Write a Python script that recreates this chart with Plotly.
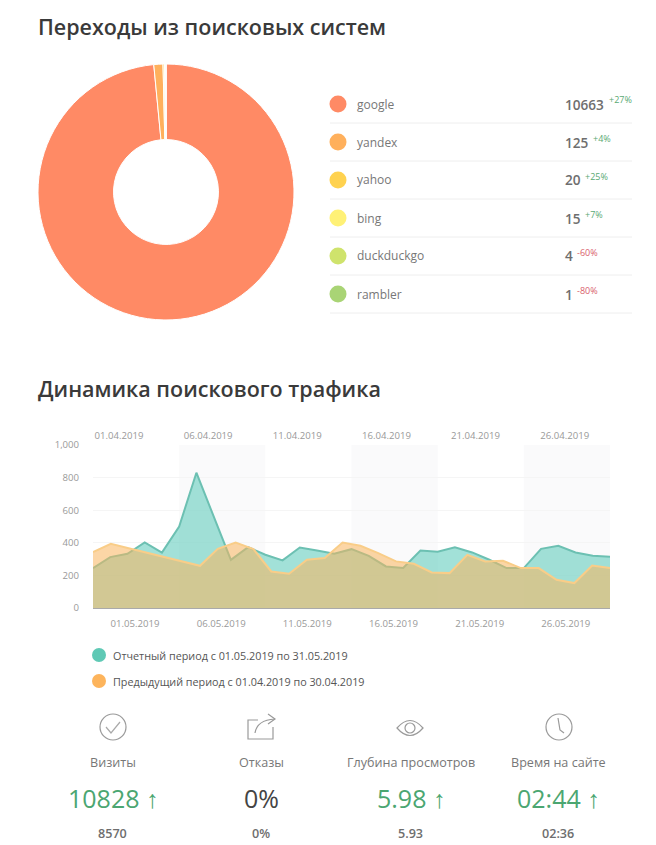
import pandas as pd
import plotly.graph_objects as go

W, H = 656, 845
FONT = "Open Sans"

# ---- data
engines = ["google", "yandex", "yahoo", "bing", "duckduckgo", "rambler"]
engine_values = [10663, 125, 20, 15, 4, 1]
engine_changes = ["+27%", "+4%", "+25%", "+7%", "-60%", "-80%"]
engine_colors = ["#ff8a65", "#ffb05c", "#ffd24f", "#fff176", "#cfe36c", "#a9d475"]

may_visits = [245, 312, 333, 402, 340, 500, 830, 561, 295, 373, 327, 292, 371, 353, 333, 361,
              320, 255, 245, 353, 345, 373, 341, 296, 245, 245, 363, 382, 341, 320, 314]
april_visits = [343, 394, 367, 340, 316, 286, 259, 363, 402, 361, 224, 210, 296, 306, 402,
                382, 337, 286, 271, 218, 214, 326, 286, 290, 245, 245, 173, 153, 261, 245]

period_labels = ["Отчетный период с 01.05.2019 по 31.05.2019",
                 "Предыдущий период с 01.04.2019 по 30.04.2019"]
kpi_names = ["Визиты", "Отказы", "Глубина просмотров", "Время на сайте"]
kpi_values = ["10828 ↑", "0%", "5.98 ↑", "02:44 ↑"]
kpi_prev = ["8570", "0%", "5.93", "02:36"]
kpi_colors = ["#4ba671", "#444444", "#4ba671", "#4ba671"]

may_dates = pd.date_range("2019-05-01", "2019-05-31")
april_dates = pd.date_range("2019-04-01", "2019-04-30")
band_starts = ["2019-05-06", "2019-05-16", "2019-05-26"]
band_ends = ["2019-05-11", "2019-05-21", "2019-05-31"]


# ---- pixel helpers for page furniture
def px(x):
    return x / W


def py(y):
    return 1 - y / H


def text(s, x, y, size, color, anchor="left", weight=400):
    return dict(text=s, x=px(x), y=py(y), xref="paper", yref="paper", xanchor=anchor, yanchor="middle",
                showarrow=False, borderpad=0, borderwidth=0,
                font=dict(family=FONT, size=size, color=color, weight=weight))


def dot(x, y, r, color):
    return dict(type="circle", xref="paper", yref="paper", x0=px(x - r), x1=px(x + r), y0=py(y + r), y1=py(y - r),
                fillcolor=color, line=dict(width=0), layer="above")


def path(cmds, color="#9a9a9a", width=1.2):
    out = []
    for c in cmds:
        if isinstance(c, str):
            out.append(c)
        else:
            out.append(f"{px(c[0]):.5f},{py(c[1]):.5f}")
    return dict(type="path", xref="paper", yref="paper", path=" ".join(out), line=dict(color=color, width=width),
                fillcolor="rgba(0,0,0,0)", layer="above")


def ring(x, y, r, color="#9a9a9a", width=1.2):
    return dict(type="circle", xref="paper", yref="paper", x0=px(x - r), x1=px(x + r), y0=py(y + r), y1=py(y - r),
                line=dict(color=color, width=width), fillcolor="rgba(0,0,0,0)", layer="above")


fig = go.Figure()

fig.add_trace(go.Pie(labels=engines, values=engine_values, sort=False, direction="clockwise", rotation=0,
                     hole=0.41, textinfo="none", showlegend=False,
                     marker=dict(colors=engine_colors, line=dict(color="white", width=1)),
                     domain=dict(x=[px(38), px(294)], y=[py(320), py(64)])))

fig.add_trace(go.Scatter(x=may_dates, y=may_visits, mode="lines", fill="tozeroy", xaxis="x", yaxis="y",
                         name=period_labels[0], showlegend=False,
                         line=dict(color="#6cc0b2", width=2), fillcolor="rgba(94,203,188,0.58)"))
fig.add_trace(go.Scatter(x=april_dates, y=april_visits, mode="lines", fill="tozeroy", xaxis="x2", yaxis="y",
                         name=period_labels[1], showlegend=False,
                         line=dict(color="#f9cd88", width=2), fillcolor="rgba(250,180,92,0.55)"))

annotations = [text("Переходы из поисковых систем", 38, 27, 21.5, "#3a3a3a", weight=600),
               text("Динамика поискового трафика", 38, 389, 21.5, "#3a3a3a", weight=600)]
shapes = []

for s, e in zip(band_starts, band_ends):
    shapes.append(dict(type="rect", xref="x", yref="paper", x0=s, x1=e, y0=py(608), y1=py(445),
                       fillcolor="#fafafb", line=dict(width=0), layer="below"))

row = 0
for name, val, chg, col in zip(engines, engine_values, engine_changes, engine_colors):
    y = 104 + 38 * row
    shapes.append(dot(338, y, 8.5, col))
    shapes.append(dict(type="line", xref="paper", yref="paper", x0=px(330), x1=px(632), y0=py(y + 19), y1=py(y + 19),
                       line=dict(color="#eeeeee", width=1), layer="above"))
    annotations.append(text(name, 357, y, 12, "#777777"))
    annotations.append(text(str(val), 565, y, 13.6, "#6e6e6e", weight=600))
    annotations.append(text(chg, 568.5 + 8 * len(str(val)), y - 4, 9, "#5aa973" if chg[0] == "+" else "#d9606c"))
    row += 1

for i, (lab, col) in enumerate(zip(period_labels, ["#5fc9b5", "#fdb45c"])):
    y = 655 + 26 * i
    shapes.append(dot(99, y, 7, col))
    annotations.append(text(lab, 113, y, 10.8, "#555555"))

kpi_x = [113, 261, 411, 558]
for x, n, v, p, c in zip(kpi_x, kpi_names, kpi_values, kpi_prev, kpi_colors):
    annotations.append(text(n, x, 762, 12.6, "#777777", "center"))
    annotations.append(text(v, x, 798, 25, c, "center"))
    annotations.append(text(p, x, 833, 12.6, "#6e6e6e", "center", 600))

# icons
shapes += [
    ring(113, 727, 13),
    path(["M", (106, 727), "L", (111, 733), "L", (120, 722)], "#aaaaaa"),
    path(["M", (258, 720), "L", (248, 720), "L", (248, 739), "L", (273, 739), "L", (273, 727)]),
    path(["M", (255, 733), "Q", (257, 720), (275, 719)]),
    path(["M", (268, 714), "L", (275, 719), "L", (268, 724)]),
    path(["M", (397, 728), "Q", (410, 713), (423, 728), "Q", (410, 743), (397, 728), "Z"]),
    ring(410, 728, 5),
    ring(559, 727, 13),
    path(["M", (558, 718), "L", (560, 730), "L", (564, 733)]),
]

tickfont = dict(family=FONT, size=9.6, color="#999999")
fig.update_layout(
    width=W, height=H, margin=dict(l=0, r=0, t=0, b=0, autoexpand=False), paper_bgcolor="white",
    plot_bgcolor="rgba(0,0,0,0)",
    showlegend=False, annotations=annotations, shapes=shapes, hovermode=False,
    xaxis=dict(domain=[px(93), px(610)], range=["2019-05-01", "2019-05-31"], type="date", tick0="2019-05-01",
               dtick=5 * 86400000, tickformat="%d.%m.%Y", ticklabelshift=42, tickfont=tickfont, automargin=False,
               ticks="outside", ticklen=6, tickcolor="rgba(0,0,0,0)", showgrid=False, zeroline=False,
               showline=True, linecolor="#aaaaaa", linewidth=1, anchor="y"),
    xaxis2=dict(domain=[px(93), px(610)], range=["2019-04-01", "2019-04-30"], type="date", tick0="2019-04-01",
                dtick=5 * 86400000, tickformat="%d.%m.%Y", ticklabelshift=26, tickfont=tickfont, automargin=False,
                ticks="outside", ticklen=1, tickcolor="rgba(0,0,0,0)", showgrid=False, zeroline=False,
                side="top", overlaying="x", anchor="y"),
    yaxis=dict(domain=[py(608), py(445)], range=[0, 1000], tick0=0, dtick=200, tickformat=",", tickfont=tickfont,
               ticks="outside", ticklen=11, tickcolor="rgba(0,0,0,0)", showgrid=True, gridcolor="#f5f5f5",
               zeroline=False, anchor="x", automargin=False),
)

fig.write_html("out.html", config=dict(displayModeBar=False),
               post_script="document.body.style.margin='0';")
